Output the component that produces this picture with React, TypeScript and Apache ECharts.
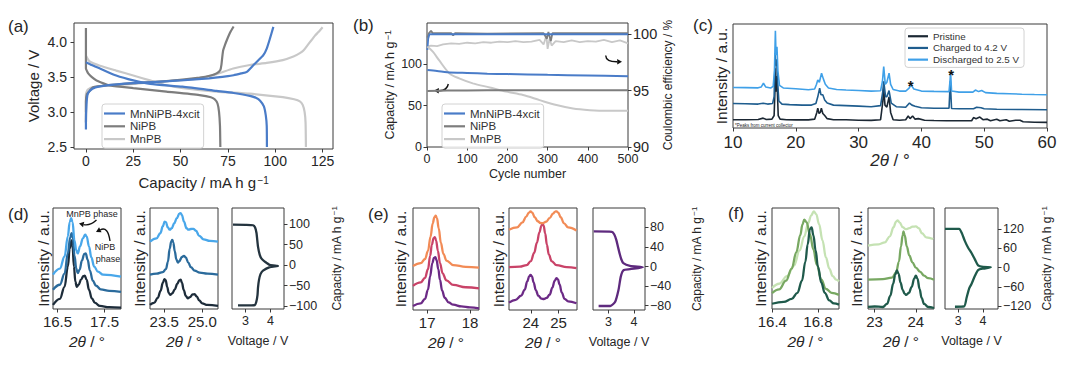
import React, { useEffect, useRef } from 'react';
import * as echarts from 'echarts';

type P = [number, number];

// ---------- (a) voltage profiles [capacity, voltage] ----------
const aMnNiCharge: P[] = [[0, 2.75], [0, 2.85], [0.3, 3.1], [0.8, 3.24], [2, 3.3], [5, 3.35], [11, 3.38], [25, 3.41], [50, 3.45], [65, 3.48], [75, 3.51], [78, 3.524], [82, 3.55], [85, 3.571], [88.4, 3.667], [91.1, 3.738], [93.7, 3.81], [95.5, 3.905], [97.2, 4.048], [99, 4.214]];
const aMnNiDischarge: P[] = [[0, 3.71], [3, 3.67], [7.4, 3.62], [16, 3.52], [25, 3.45], [34, 3.4], [51, 3.36], [69, 3.3], [78, 3.27], [86.6, 3.23], [90, 3.2], [92, 3.16], [94, 3.08], [95, 2.95], [95.5, 2.8], [95.6, 2.5]];
const aNiCharge: P[] = [[0, 2.85], [0, 3.15], [0.5, 3.25], [2, 3.3], [3.5, 3.35], [8, 3.37], [25, 3.41], [42.5, 3.44], [60, 3.49], [66, 3.52], [69, 3.55], [71, 3.6], [71.6, 3.68], [72, 3.78], [72.5, 3.88], [73.5, 3.96], [74.5, 4.03], [76.3, 4.14], [78, 4.22]];
const aNiDischarge: P[] = [[0, 4.2], [0, 3.62], [0.6, 3.58], [1.2, 3.55], [3, 3.5], [5.6, 3.45], [12.7, 3.38], [25, 3.34], [42.5, 3.29], [60, 3.24], [66, 3.21], [68, 3.18], [69.5, 3.12], [70.3, 3.0], [70.8, 2.8], [71, 2.5]];
const aMnCharge: P[] = [[0, 3.0], [0, 3.25], [1, 3.32], [5, 3.36], [12.7, 3.38], [25, 3.4], [42.5, 3.44], [60, 3.48], [69, 3.54], [77.8, 3.62], [86.6, 3.67], [95.5, 3.7], [104, 3.74], [109.6, 3.79], [113, 3.84], [115, 3.88], [117, 3.95], [119, 4.02], [121, 4.09], [122.8, 4.14], [125, 4.21]];
const aMnDischarge: P[] = [[0, 3.8], [2, 3.72], [7.4, 3.66], [16, 3.59], [25, 3.52], [33.8, 3.45], [42.5, 3.38], [51.4, 3.34], [69, 3.29], [86.6, 3.26], [104, 3.21], [110, 3.18], [113, 3.15], [114.5, 3.1], [115.5, 3.0], [116, 2.85], [116.2, 2.5]];

// ---------- (b) cycling [cycle, value] ----------
const bMnNiCap: P[] = [[1, 93], [25, 92], [50, 90.5], [100, 89.5], [150, 88.7], [200, 88.2], [300, 87.3], [400, 86.5], [500, 85.6]];
const bNiCap: P[] = [[1, 67.8], [50, 68.2], [100, 68.4], [200, 68.6], [300, 68.7], [400, 68.7], [500, 68.8]];
const bMnCap: P[] = [[1, 121.5], [15, 115], [30, 105], [56, 89], [80, 83], [114, 77], [156, 72], [197, 67], [239, 62.8], [280, 56.7], [322, 50.7], [363, 46.6], [405, 44.6], [446, 43.7], [500, 44]];
const bMnNiCE: P[] = [[1, 98.6], [3, 99.6], [6, 100], [100, 100], [200, 100], [300, 100], [400, 100], [500, 100]];
const bNiCE: P[] = [[1, 99.7], [5, 100.1], [10, 100.3], [14, 100.1], [60, 100.1], [65, 99.9], [70, 100.1], [150, 100.05], [290, 100.1], [298, 99.6], [302, 100.2], [308, 99.4], [312, 100.1], [500, 100.1]];
const bMnCE: P[] = [[1, 98.9], [10, 99.0], [25, 98.95], [40, 99.1], [60, 99.2], [80, 99.15], [100, 99.25], [120, 99.2], [140, 99.3], [160, 99.25], [180, 99.35], [200, 99.3], [220, 99.4], [240, 99.3], [260, 99.35], [280, 99.5], [290, 99.1], [297, 99.9], [300, 98.7], [305, 99.6], [310, 99.0], [320, 99.4], [340, 99.3], [360, 99.45], [380, 99.3], [400, 99.4], [420, 99.35], [440, 99.5], [460, 99.3], [480, 99.45], [500, 99.2]];

// ---------- (c) XRD [2theta, intensity] ----------
const cPristine: P[] = [[10, 8], [12, 8], [14, 8.2], [14.8, 9.5], [15.3, 8.2], [16.2, 8.5], [16.55, 12], [16.7, 40], [16.77, 57.5], [16.85, 35], [16.95, 50], [17.05, 38], [17.2, 12], [17.5, 8.5], [18.5, 8], [20, 7.8], [22, 7.8], [23.0, 8.5], [23.35, 15], [23.5, 19], [23.7, 14], [23.9, 15], [24.07, 19], [24.3, 14], [24.6, 12], [25.0, 9], [26, 8], [28, 8], [30, 7.5], [32, 7.3], [33.5, 8], [33.85, 25], [34.0, 38], [34.2, 22], [34.5, 20], [34.85, 30], [35.1, 15], [35.5, 8], [36.5, 7.5], [37.5, 8], [37.9, 11.5], [38.2, 9], [38.6, 11.5], [39.0, 8.5], [39.5, 9], [40.5, 7.5], [42, 7.2], [44, 7], [46, 7], [48, 7], [48.3, 10], [48.7, 9], [49.3, 10.5], [49.8, 8], [50.5, 8.5], [51, 7], [52, 8.5], [52.5, 7], [53.5, 8], [54, 6.5], [55, 7.5], [55.7, 7.5], [56.2, 6], [58, 5.5], [60, 5.4]];
const cCharged: P[] = [[10, 23.5], [12, 23.3], [14, 23], [14.8, 23.8], [15.5, 23], [16.3, 23.5], [16.55, 30], [16.72, 72], [16.8, 60], [16.95, 66], [17.1, 45], [17.3, 26], [17.8, 23], [19, 22.5], [21, 22], [22.5, 22], [23.2, 23.5], [23.5, 30], [23.8, 38.3], [24.0, 32], [24.3, 31.9], [24.6, 27], [25, 24], [26, 22], [28, 21.5], [30, 21], [32, 20.5], [33.5, 21.5], [33.85, 35], [34.0, 45], [34.3, 30], [34.5, 30], [34.85, 36], [35.2, 24], [36, 20.5], [37.5, 20], [38.1, 24], [38.5, 22], [39, 21], [40, 19.5], [42, 19], [44.4, 19], [44.6, 45], [44.8, 18.8], [46, 18.5], [48.3, 18.5], [48.8, 20], [49.5, 19.5], [50, 18.5], [52, 18], [56, 17.8], [60, 17.5]];
const cDischarged: P[] = [[10, 39], [12, 38.8], [14, 38.6], [14.5, 39.5], [14.85, 43], [15.2, 39.5], [16, 38.5], [16.4, 40], [16.6, 55], [16.75, 93.6], [16.85, 70], [17.0, 78], [17.15, 55], [17.4, 41], [18, 38.5], [20, 37.8], [22, 36.8], [23.0, 37.5], [23.3, 42], [23.5, 46.3], [23.75, 44], [24.1, 52.7], [24.4, 47], [24.7, 42], [25.2, 38.5], [26.5, 37], [28, 36.5], [30, 36], [32, 35.5], [33.5, 35.8], [33.8, 45], [34.0, 59], [34.25, 42], [34.5, 44], [34.85, 52.7], [35.1, 42], [35.5, 37], [36.5, 35.5], [37.5, 35.5], [38.0, 38], [38.35, 41.5], [38.8, 37.5], [40, 35.5], [42, 35.2], [44.4, 35], [44.55, 45], [44.65, 54], [44.8, 35.5], [46, 34.5], [48.2, 34.5], [48.6, 36.5], [49.1, 35], [49.6, 36], [50.2, 34], [52, 33.3], [54, 33], [56, 32.5], [58, 32.2], [60, 32]];
const cStars: P[] = [[38.3, 40.6], [44.75, 51.4]];

// ---------- (d) ----------
const d1Bottom: P[] = [[16.404, 4], [16.55, 10], [16.65, 22], [16.72, 42], [16.76, 60], [16.8, 68], [16.82, 62], [16.85, 42], [16.88, 27], [16.91, 22], [16.95, 24], [17.0, 29], [17.05, 32.5], [17.08, 33], [17.12, 29], [17.17, 19], [17.23, 10.5], [17.3, 6], [17.4, 3], [17.6, 1.8], [17.851, 1.3]];
const d1Mid: P[] = [[16.404, 19], [16.55, 24], [16.65, 35], [16.72, 55], [16.77, 71], [16.8, 75], [16.83, 70], [16.86, 53], [16.9, 40], [16.93, 35.5], [16.97, 39], [17.02, 48], [17.07, 54.5], [17.1, 55], [17.14, 49], [17.19, 38], [17.25, 28], [17.32, 23], [17.42, 19.5], [17.6, 18], [17.851, 17]];
const d1Top: P[] = [[16.404, 34], [16.55, 40], [16.65, 52], [16.72, 72], [16.76, 86], [16.79, 90], [16.82, 86], [16.86, 68], [16.9, 58], [16.93, 55], [16.98, 62], [17.04, 70], [17.09, 73.5], [17.12, 72], [17.17, 62], [17.22, 51], [17.28, 42], [17.36, 37], [17.47, 34], [17.851, 32]];
const d2Bottom: P[] = [[22.944, 4], [23.1, 6], [23.25, 11], [23.36, 18], [23.45, 26], [23.51, 29.5], [23.56, 28.5], [23.62, 22], [23.68, 16], [23.74, 14], [23.82, 15.5], [23.92, 19.5], [24.02, 25], [24.1, 28.5], [24.15, 29], [24.2, 26], [24.27, 19], [24.35, 13], [24.43, 10.6], [24.52, 11.8], [24.62, 14.5], [24.7, 14.6], [24.78, 12.5], [24.88, 8.5], [25.0, 5.5], [25.2, 4], [25.619, 3]];
const d2Mid: P[] = [[22.944, 34], [23.2, 35], [23.45, 36.5], [23.57, 39.5], [23.65, 47], [23.72, 60], [23.78, 67], [23.82, 68.5], [23.86, 66], [23.92, 57], [23.98, 49], [24.04, 46], [24.1, 47.5], [24.2, 51.5], [24.28, 52.6], [24.35, 51], [24.45, 46], [24.55, 41.5], [24.7, 38], [24.9, 36], [25.2, 35], [25.619, 34]];
const d2Top: P[] = [[22.944, 66.8], [23.2, 70], [23.35, 75], [23.45, 82], [23.52, 86.5], [23.57, 86], [23.64, 81], [23.72, 78.5], [23.8, 80], [23.9, 85], [24.0, 90], [24.1, 94.5], [24.15, 95], [24.2, 93], [24.28, 86.5], [24.38, 80], [24.46, 78.5], [24.55, 79.2], [24.65, 79.4], [24.75, 77.5], [24.88, 72.5], [25.05, 69], [25.3, 67.5], [25.619, 66.8]];
const d3Curve: P[] = [[2.5, 98.3], [3.0, 98], [3.3, 97], [3.38, 92], [3.44, 78], [3.5, 45], [3.57, 25], [3.65, 15], [3.77, 8.5], [3.97, 0.4], [4.3, -2], [3.97, -5], [3.7, -13.6], [3.6, -22], [3.54, -36], [3.5, -55], [3.48, -73], [3.43, -90], [3.37, -97.5], [3.24, -98], [2.7, -98]];

// ---------- (e) ----------
const e1Bottom: P[] = [[16.67, 4], [16.85, 6.5], [16.95, 11], [17.02, 20], [17.07, 33], [17.12, 46], [17.16, 51], [17.19, 51.8], [17.22, 49], [17.26, 40], [17.3, 29.5], [17.35, 19], [17.41, 12], [17.5, 7.5], [17.61, 5.2], [17.8, 3.5], [18.0, 2.5], [18.21, 1.7]];
const e1Mid: P[] = [[16.67, 23.6], [16.85, 27], [16.95, 31.5], [17.02, 40], [17.07, 53], [17.11, 64], [17.15, 70.5], [17.18, 71.5], [17.21, 68], [17.25, 58], [17.3, 46], [17.36, 36], [17.45, 29], [17.61, 24.6], [17.9, 22.3], [18.21, 21.3]];
const e1Top: P[] = [[16.67, 43], [16.85, 46], [16.95, 50], [17.02, 58], [17.08, 72], [17.13, 85], [17.17, 91], [17.2, 92.4], [17.23, 90], [17.27, 80], [17.32, 66], [17.38, 55], [17.45, 48.5], [17.61, 44], [17.9, 42.3], [18.21, 41.6]];
const e2Bottom: P[] = [[23.21, 7.2], [23.45, 10], [23.65, 14], [23.78, 20], [23.87, 28], [23.94, 33], [23.99, 34.4], [24.04, 33], [24.1, 27], [24.18, 19.5], [24.27, 14], [24.38, 11.2], [24.47, 10.8], [24.57, 11.8], [24.68, 15], [24.78, 22], [24.86, 28.5], [24.93, 31.2], [24.98, 30], [25.04, 25], [25.12, 17], [25.22, 11], [25.35, 8.5], [25.65, 6.6]];
const e2Mid: P[] = [[23.21, 42], [23.6, 42.5], [23.85, 44], [24.0, 48], [24.12, 56], [24.22, 66], [24.31, 76], [24.38, 82.5], [24.42, 84.6], [24.46, 83], [24.52, 75], [24.58, 64], [24.65, 54.5], [24.75, 48], [24.93, 44], [25.3, 42], [25.65, 41]];
const e2Top: P[] = [[23.21, 78.7], [23.5, 81], [23.7, 86], [23.83, 91.5], [23.93, 95.5], [23.99, 96.7], [24.05, 95.5], [24.14, 91], [24.25, 87], [24.35, 85.3], [24.44, 85.2], [24.55, 86.5], [24.68, 90], [24.8, 94.5], [24.88, 96.5], [24.93, 96.7], [24.99, 95.5], [25.08, 91], [25.2, 85], [25.35, 81], [25.65, 78]];
const e3Curve: P[] = [[2.42, 71.8], [3.13, 71], [3.22, 66], [3.3, 55], [3.43, 27.5], [3.5, 15], [3.58, 7], [3.84, 1.4], [4.35, -1.2], [3.84, -5.3], [3.58, -7.6], [3.48, -20.5], [3.39, -47.8], [3.26, -71.8], [3.07, -80.6], [2.61, -80.6]];

// ---------- (f) ----------
const f1Light: P[] = [[16.397, 20.8], [16.46, 25], [16.53, 32.5], [16.59, 43], [16.64, 58], [16.68, 72], [16.715, 85], [16.74, 92.5], [16.764, 96.6], [16.785, 94], [16.81, 84], [16.84, 68], [16.87, 51], [16.9, 40], [16.93, 32.5], [16.96, 29], [16.985, 27.3]];
const f1Mid: P[] = [[16.397, 15.8], [16.46, 19.5], [16.52, 28], [16.57, 40], [16.61, 56], [16.645, 73], [16.665, 84], [16.68, 88.4], [16.7, 86], [16.73, 74], [16.76, 59], [16.79, 44], [16.83, 29], [16.87, 20], [16.92, 16], [16.985, 14]];
const f1Dark: P[] = [[16.397, 5.2], [16.5, 7], [16.57, 10], [16.62, 16], [16.66, 28], [16.69, 47], [16.71, 64], [16.73, 79], [16.745, 80.8], [16.76, 73], [16.78, 58], [16.8, 42], [16.83, 26], [16.86, 16], [16.9, 8.5], [16.94, 5.5], [16.985, 4.3]];
const f2Dark: P[] = [[22.84, 2], [23.0, 2.5], [23.2, 2], [23.3, 5], [23.38, 13], [23.45, 25], [23.5, 34], [23.54, 38.2], [23.58, 35], [23.63, 26], [23.68, 19], [23.73, 15], [23.77, 14], [23.83, 16], [23.9, 22], [23.96, 30], [24.0, 33], [24.04, 30], [24.09, 20], [24.14, 11], [24.2, 5], [24.3, 2], [24.44, 1]];
const f2Mid: P[] = [[22.84, 29], [23.2, 29.5], [23.42, 31], [23.52, 36], [23.59, 47], [23.64, 62], [23.68, 73], [23.7, 76.8], [23.73, 73], [23.78, 62], [23.84, 53], [23.92, 46], [24.0, 41], [24.1, 37], [24.2, 33], [24.3, 30.5], [24.44, 29]];
const f2Light: P[] = [[22.84, 62.7], [23.1, 64], [23.25, 66], [23.37, 72], [23.46, 81], [23.52, 86.5], [23.56, 87.7], [23.61, 85.5], [23.68, 81], [23.76, 79], [23.84, 80], [23.92, 81.5], [24.0, 81.8], [24.07, 80], [24.15, 75], [24.25, 71], [24.42, 69.3]];
const f3Curve: P[] = [[2.47, 120], [3.04, 120], [3.14, 107.7], [3.27, 82], [3.4, 61.5], [3.53, 46], [3.67, 25.5], [3.8, 7], [4.0, 2], [4.31, 1], [4.0, -3], [3.8, -7.4], [3.67, -25.8], [3.53, -51.4], [3.44, -64.6], [3.34, -92.3], [3.24, -120], [2.87, -121]];

// ---------- ticks / labels ----------
const aXTicks = [0, 25, 50, 75, 100, 125];
const aYTicks = [2.5, 3.0, 3.5, 4.0];
const bXTicks = [0, 100, 200, 300, 400, 500];
const bYTicks = [0, 50, 100];
const bY2Ticks = [90, 95, 100];
const cXTicks = [10, 20, 30, 40, 50, 60];
const d1XTicks = [16.5, 17.5];
const d2XTicks = [23.5, 25.0];
const d3YTicks = [-100, -50, 0, 50, 100];
const e1XTicks = [17, 18];
const e2XTicks = [24, 25];
const e3YTicks = [-80, -40, 0, 40, 80];
const f1XTicks = [16.4, 16.8];
const f2XTicks = [23, 24];
const f3YTicks = [-120, -60, 0, 60, 120];
const vXTicks = [3, 4];
const batteryNames = ['MnNiPB-4xcit', 'NiPB', 'MnPB'];
const xrdNames = ['Pristine', 'Charged to 4.2 V', 'Discharged to 2.5 V'];

const FONT = '"Liberation Sans", Arial, Helvetica, sans-serif';
const TXT = '#262626';
const SPINE = '#3a3a3a';
const BLUE = '#4a7cc8';
const GRAY = '#7d7d7d';
const LGRAY = '#c8c8c8';

const rich = (fs: number) => ({
  i: { fontStyle: 'italic', fontSize: fs, fontFamily: FONT, color: TXT },
  sup: { fontSize: Math.round(fs * 0.68), fontFamily: FONT, color: TXT, verticalAlign: 'top', padding: [0, 0, 0, 1] },
});
const CAP = 'Capacity / mA h g{sup|−1}';
const TTH = '{i|2θ} / °';

const minus = (v: number) => String(v).replace('-', '−');

function vAxis(gridIndex: number, min: number, max: number, ticks: number[] | null, o: any = {}) {
  const fs = o.fontSize ?? 13.5;
  const nfs = o.nameSize ?? 14;
  return {
    type: 'value', gridIndex, min, max,
    position: o.position,
    name: o.name ?? '',
    nameLocation: 'middle',
    nameGap: o.nameGap ?? 20,
    nameRotate: o.nameRotate,
    nameTextStyle: { color: TXT, fontFamily: FONT, fontSize: nfs, rich: rich(nfs) },
    splitLine: { show: false },
    axisLine: { show: false, onZero: false },
    axisTick: ticks ? { show: true, length: 3.5, inside: false, lineStyle: { color: SPINE, width: 1 }, customValues: ticks } : { show: false },
    axisLabel: ticks ? { show: true, color: TXT, fontFamily: FONT, fontSize: fs, margin: o.margin ?? 6, customValues: ticks, formatter: o.fmt ?? minus } : { show: false },
  };
}

function ln(name: string, xi: number, yi: number, data: P[], color: string, width: number, o: any = {}) {
  return {
    type: 'line', name, xAxisIndex: xi, yAxisIndex: yi, data, color,
    symbol: 'none', showSymbol: false, silent: true, animation: false,
    smooth: o.smooth ?? 0, smoothMonotone: o.mono,
    lineStyle: { color, width }, itemStyle: { color }, z: o.z ?? 2,
    markPoint: o.markPoint,
  };
}

function arrow(x1: number, y1: number, cx: number, cy: number, x2: number, y2: number) {
  const dx = x2 - cx, dy = y2 - cy;
  const len = Math.hypot(dx, dy) || 1;
  const ux = dx / len, uy = dy / len;
  const s = 4.8, w = 2.8;
  const bx = x2 - ux * s, by = y2 - uy * s;
  return {
    type: 'group', silent: true,
    children: [
      { type: 'bezierCurve', shape: { x1, y1, cpx1: cx, cpy1: cy, x2: bx, y2: by }, style: { stroke: '#111', lineWidth: 1.4, fill: null } },
      { type: 'polygon', shape: { points: [[x2, y2], [bx - uy * w, by + ux * w], [bx + uy * w, by - ux * w]] }, style: { fill: '#111' } },
    ],
  };
}

function txt(text: string, x: number, y: number, fs: number, align = 'left') {
  return { type: 'text', silent: true, x, y, style: { text, fill: TXT, font: `${fs}px ${FONT}`, textAlign: align, textVerticalAlign: 'middle' } };
}

const grid = (left: number, top: number, width: number, height: number) => ({
  left, top, width, height, show: true, borderColor: SPINE, borderWidth: 1, backgroundColor: 'transparent', outerBoundsMode: 'none', containLabel: false,
});

const legendBase = {
  orient: 'vertical', selectedMode: false, backgroundColor: 'rgba(255,255,255,0.85)', borderColor: '#d2d2d2', borderWidth: 1, borderRadius: 3,
  icon: 'rect', itemWidth: 21, itemHeight: 2.2, itemGap: 0.8,
  textStyle: { fontFamily: FONT, fontSize: 11.5, color: '#333', lineHeight: 11.7 },
};

function buildOption() {
  const grids = [
    grid(74, 23, 259, 126),   // a
    grid(427, 23, 201, 124),  // b
    grid(733, 24, 314, 104),  // c
    grid(53, 208, 68, 101),   // d1
    grid(150, 208, 68, 101),  // d2
    grid(232, 208, 52, 101),  // d3
    grid(413, 208, 66, 102),  // e1
    grid(509, 208, 68, 102),  // e2
    grid(593, 208, 52, 102),  // e3
    grid(772, 208, 67, 101),  // f1
    grid(868, 208, 66, 101),  // f2
    grid(945, 208, 53, 101),  // f3
  ];
  const f1 = (v: number) => v.toFixed(1);
  const bx = { nameGap: 24, margin: 5, fontSize: 15, nameSize: 15.5 };
  const vx = { name: 'Voltage / V', nameGap: 25, margin: 5, fontSize: 12.5, nameSize: 12.5 };
  const vy = { name: CAP, nameRotate: 90, position: 'right', margin: 5, fontSize: 12.5, nameSize: 12 };
  const iy = { name: 'Intensity / a.u.', nameRotate: 90, nameSize: 15.5 };
  const xAxis = [
    vAxis(0, -6.3, 130.5, aXTicks, { name: CAP, nameGap: 26, margin: 5, fontSize: 14, nameSize: 15 }),
    vAxis(1, 0, 500, bXTicks, { name: 'Cycle number', nameGap: 20, margin: 5, fontSize: 12.5, nameSize: 12.5 }),
    vAxis(2, 10, 60, cXTicks, { name: TTH, nameGap: 19.5, margin: 6, fontSize: 17, nameSize: 17 }),
    vAxis(3, 16.404, 17.851, d1XTicks, { ...bx, name: TTH, fmt: f1 }),
    vAxis(4, 22.944, 25.619, d2XTicks, { ...bx, name: TTH, fmt: f1 }),
    vAxis(5, 2.46, 4.54, vXTicks, vx),
    vAxis(6, 16.67, 18.21, e1XTicks, { ...bx, name: TTH }),
    vAxis(7, 23.21, 25.67, e2XTicks, { ...bx, name: TTH }),
    vAxis(8, 2.39, 4.43, vXTicks, vx),
    vAxis(9, 16.397, 16.985, f1XTicks, { ...bx, name: TTH, fmt: f1 }),
    vAxis(10, 22.84, 24.44, f2XTicks, { ...bx, name: TTH }),
    vAxis(11, 2.47, 4.6, vXTicks, vx),
  ];
  const yAxis = [
    vAxis(0, 2.47, 4.27, aYTicks, { name: 'Voltage / V', nameGap: 33, nameRotate: 90, fmt: f1, margin: 7, fontSize: 14, nameSize: 15 }),
    vAxis(1, 0, 150, bYTicks, { name: CAP, nameGap: 31, nameRotate: 90, margin: 5, position: 'left', fontSize: 12.5, nameSize: 12.5 }),
    vAxis(1, 90, 101, bY2Ticks, { name: 'Coulombic efficiency / %', nameGap: 34, nameRotate: 90, margin: 5, position: 'right', fontSize: 14.5, nameSize: 12 }),
    vAxis(2, 0, 100, null, { ...iy, nameGap: 3.5 }),
    vAxis(3, 0, 100, null, { ...iy, nameGap: 1.5 }),
    vAxis(4, 0, 100, null, { ...iy, nameGap: 2.3 }),
    vAxis(5, -107, 139, d3YTicks, { ...vy, nameGap: 46.5 }),
    vAxis(6, 0, 100, null, { ...iy, nameGap: 5 }),
    vAxis(7, 0, 100, null, { ...iy, nameGap: 3 }),
    vAxis(8, -88.8, 119.8, e3YTicks, { ...vy, nameGap: 45.5 }),
    vAxis(9, 0, 100, null, { ...iy, nameGap: 4 }),
    vAxis(10, 0, 100, null, { ...iy, nameGap: 3.5 }),
    vAxis(11, -128, 184.6, f3YTicks, { ...vy, nameGap: 42.5 }),
  ];
  const sm = { smooth: 0.4, mono: 'x' };
  const series: any[] = [
    // (a)
    ln('MnPB', 0, 0, aMnCharge, LGRAY, 2.2, { smooth: 0.2 }),
    ln('MnPB', 0, 0, aMnDischarge, LGRAY, 2.2, { smooth: 0.2 }),
    ln('NiPB', 0, 0, aNiCharge, GRAY, 2.2, { smooth: 0.2 }),
    ln('NiPB', 0, 0, aNiDischarge, GRAY, 2.2, { smooth: 0.2 }),
    ln('MnNiPB-4xcit', 0, 0, aMnNiCharge, BLUE, 2.2, { smooth: 0.2 }),
    ln('MnNiPB-4xcit', 0, 0, aMnNiDischarge, BLUE, 2.2, { smooth: 0.2 }),
    // (b)
    ln('MnPB', 1, 2, bMnCE, LGRAY, 1.8),
    ln('NiPB', 1, 2, bNiCE, GRAY, 1.8),
    ln('MnNiPB-4xcit', 1, 2, bMnNiCE, BLUE, 1.8),
    ln('MnPB', 1, 1, bMnCap, LGRAY, 2, { smooth: 0.3 }),
    ln('NiPB', 1, 1, bNiCap, GRAY, 2, { smooth: 0.3 }),
    ln('MnNiPB-4xcit', 1, 1, bMnNiCap, BLUE, 2, { smooth: 0.3 }),
    // (c)
    ln('Pristine', 2, 3, cPristine, '#1b2733', 1.6),
    ln('Charged to 4.2 V', 2, 3, cCharged, '#1f5d8e', 1.6),
    ln('Discharged to 2.5 V', 2, 3, cDischarged, '#3fa0e8', 1.6, {
      markPoint: {
        symbol: 'circle', symbolSize: 0, silent: true, animation: false,
        label: { show: true, position: 'inside', formatter: '*', color: '#111', fontSize: 15, fontWeight: 'bold', fontFamily: FONT },
        data: cStars.map((p) => ({ coord: p })),
      },
    }),
    // (d)
    ln('d1 bottom', 3, 4, d1Bottom, '#1d2c3a', 2.3, sm),
    ln('d1 mid', 3, 4, d1Mid, '#2b6b9c', 2.3, sm),
    ln('d1 top', 3, 4, d1Top, '#49a7ea', 2.3, sm),
    ln('d2 bottom', 4, 5, d2Bottom, '#1d2c3a', 2.3, sm),
    ln('d2 mid', 4, 5, d2Mid, '#2b6b9c', 2.3, sm),
    ln('d2 top', 4, 5, d2Top, '#49a7ea', 2.3, sm),
    ln('d3', 5, 6, d3Curve, '#24343f', 2.3, { smooth: 0.2 }),
    // (e)
    ln('e1 bottom', 6, 7, e1Bottom, '#6c2a86', 2.3, sm),
    ln('e1 mid', 6, 7, e1Mid, '#c94368', 2.3, sm),
    ln('e1 top', 6, 7, e1Top, '#f28b56', 2.3, sm),
    ln('e2 bottom', 7, 8, e2Bottom, '#6c2a86', 2.3, sm),
    ln('e2 mid', 7, 8, e2Mid, '#c94368', 2.3, sm),
    ln('e2 top', 7, 8, e2Top, '#f28b56', 2.3, sm),
    ln('e3', 8, 9, e3Curve, '#5e2a7e', 2.3, { smooth: 0.2 }),
    // (f)
    ln('f1 light', 9, 10, f1Light, '#c5e2b3', 2.3, sm),
    ln('f1 mid', 9, 10, f1Mid, '#78a862', 2.3, sm),
    ln('f1 dark', 9, 10, f1Dark, '#1f5a4b', 2.3, sm),
    ln('f2 light', 10, 11, f2Light, '#c5e2b3', 2.3, sm),
    ln('f2 mid', 10, 11, f2Mid, '#78a862', 2.3, sm),
    ln('f2 dark', 10, 11, f2Dark, '#1f5a4b', 2.3, sm),
    ln('f3', 11, 12, f3Curve, '#1f5a4b', 2.3, { smooth: 0.2 }),
  ];
  const legend = [
    { ...legendBase, data: batteryNames, left: 102, top: 104, padding: [3.5, 4, 3, 2] },
    { ...legendBase, data: batteryNames, left: 442, top: 104, padding: [3.5, 4, 3, 2] },
    { ...legendBase, data: xrdNames, left: 905, top: 28, itemWidth: 20, itemGap: 1.2, padding: [3, 5, 2.5, 3], textStyle: { ...legendBase.textStyle, fontSize: 9.8, lineHeight: 10.5 } },
  ];
  const graphic = [
    txt('(a)', 8, 26, 17), txt('(b)', 353, 25, 17), txt('(c)', 693, 25, 17),
    txt('(d)', 8, 214, 17), txt('(e)', 368, 214, 17), txt('(f)', 728, 213, 17),
    txt('MnPB phase', 92, 213.5, 9, 'center'),
    txt('NiPB', 105, 247, 9, 'center'),
    txt('phase', 108, 258.5, 9, 'center'),
    txt('*Peaks from current collector', 735, 125.5, 4.5),
    arrow(96.5, 220, 90, 226, 79, 223.5),
    arrow(110, 241, 108, 226, 96, 232),
    arrow(448.3, 84, 447, 91, 434, 90.5),
    arrow(605.7, 55.5, 606, 62, 622, 61.7),
  ];
  return { animation: false, backgroundColor: '#ffffff', textStyle: { fontFamily: FONT }, grid: grids, xAxis, yAxis, series, legend, graphic };
}

export default function App() {
  const ref = useRef<HTMLDivElement>(null);
  useEffect(() => {
    if (!ref.current) return;
    const chart = echarts.init(ref.current, null, { renderer: 'svg' });
    chart.setOption(buildOption() as any);
    return () => chart.dispose();
  }, []);
  return <div ref={ref} style={{ position: 'fixed', left: 0, top: 0, width: 1080, height: 373, background: '#fff' }} />;
}
